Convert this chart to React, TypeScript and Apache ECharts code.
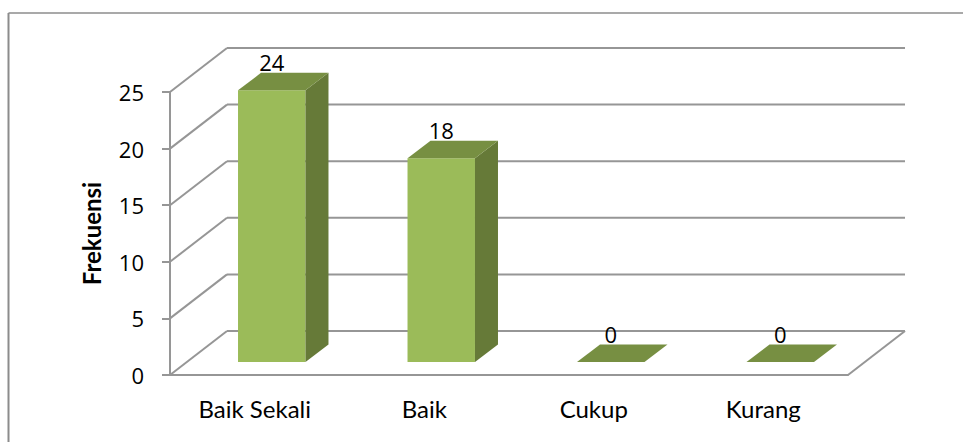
import React, { useEffect, useRef } from "react";
import * as echarts from "echarts";

const categories = ["Baik Sekali", "Baik", "Cukup", "Kurang"];
const frekuensi = [24, 18, 0, 0];
const yTicks = [0, 5, 10, 15, 20, 25];
const axisTitle = "Frekuensi";

const LINE = "#969696";
const FONT = "Lato, 'Open Sans', sans-serif";
const NUM_FONT = "'Open Sans', sans-serif";

export default function App() {
  const ref = useRef<HTMLDivElement>(null);
  useEffect(() => {
    document.body.style.margin = "0";
    const chart = echarts.init(ref.current!, null, { renderer: "svg" });
    const wallDx = 57;
    const wallDy = -44;
    const barDx = 17;
    const barDy = -13;
    const depthDx = 23;
    const depthDy = -17.5;
    chart.setOption({
      animation: false,
      backgroundColor: "#ffffff",
      graphic: [
        { type: "line", shape: { x1: 8.5, y1: 13, x2: 963, y2: 13 }, style: { stroke: "#8c8c8c", lineWidth: 1.5 } },
        { type: "line", shape: { x1: 8.5, y1: 13, x2: 8.5, y2: 442 }, style: { stroke: "#8c8c8c", lineWidth: 2 } },
      ],
      grid: { left: 170, right: 115, top: 92, bottom: 67 },
      xAxis: {
        type: "category",
        data: categories,
        axisLine: { lineStyle: { color: LINE, width: 2 } },
        axisTick: { show: false },
        axisLabel: { color: "#000", fontFamily: FONT, fontSize: 24, margin: 21 },
      },
      yAxis: {
        type: "value",
        min: 0,
        max: 25,
        interval: 5,
        name: axisTitle,
        nameLocation: "middle",
        nameGap: 67,
        nameTextStyle: { color: "#000", fontFamily: FONT, fontSize: 24, fontWeight: "bold" },
        splitLine: { show: false },
        axisLine: { show: true, lineStyle: { color: LINE, width: 2 } },
        axisTick: { show: true, length: 8, lineStyle: { color: LINE, width: 2 } },
        axisLabel: { color: "#000", fontFamily: NUM_FONT, fontSize: 22, margin: 26 },
      },
      series: [
        {
          type: "custom",
          coordinateSystem: "cartesian2d",
          z: 1,
          silent: true,
          data: yTicks.map((v) => [0, v]),
          renderItem: (params: any, api: any) => {
            const g = params.coordSys;
            const y = api.coord([0, api.value(1)])[1];
            const v = api.value(1);
            const line = (x1: number, y1: number, x2: number, y2: number) => ({
              type: "line",
              shape: { x1, y1, x2, y2 },
              style: { stroke: LINE, lineWidth: 2 },
            });
            const children: any[] = [
              line(g.x, y, g.x + wallDx, y + wallDy),
              line(g.x + wallDx, y + wallDy, g.x + g.width + wallDx, y + wallDy),
            ];
            if (v === 0) children.push(line(g.x + g.width, y, g.x + g.width + wallDx, y + wallDy));
            return { type: "group", children };
          },
        },
        {
          type: "custom",
          coordinateSystem: "cartesian2d",
          z: 3,
          silent: true,
          data: frekuensi.map((v, i) => [i, v]),
          renderItem: (_params: any, api: any) => {
            const base = api.coord([api.value(0), 0]);
            const top = api.coord([api.value(0), api.value(1)]);
            const w = api.size([1, 0])[0] * 0.398;
            const x0 = base[0] + barDx - w / 2;
            const x1 = x0 + w;
            const yb = base[1] + barDy;
            const yt = top[1] + barDy;
            const poly = (points: number[][], fill: string) => ({
              type: "polygon",
              shape: { points },
              style: { fill, stroke: "none" },
            });
            const children: any[] = [];
            if (api.value(1) > 0) {
              children.push(
                poly([[x0, yb], [x1, yb], [x1, yt], [x0, yt]], "#9BBB59"),
                poly([[x1, yb], [x1 + depthDx, yb + depthDy], [x1 + depthDx, yt + depthDy], [x1, yt]], "#667A38")
              );
            }
            children.push(
              poly([[x0, yt], [x1, yt], [x1 + depthDx, yt + depthDy], [x0 + depthDx, yt + depthDy]], "#778F42"),
              {
                type: "text",
                z2: 10,
                style: {
                  text: String(api.value(1)),
                  x: (x0 + x1) / 2,
                  y: yt + depthDy,
                  align: "center",
                  verticalAlign: "bottom",
                  fill: "#000",
                  font: `22px ${NUM_FONT}`,
                },
              }
            );
            return { type: "group", children };
          },
        },
      ],
    });
    return () => chart.dispose();
  }, []);
  return <div ref={ref} style={{ width: 963, height: 442 }} />;
}
